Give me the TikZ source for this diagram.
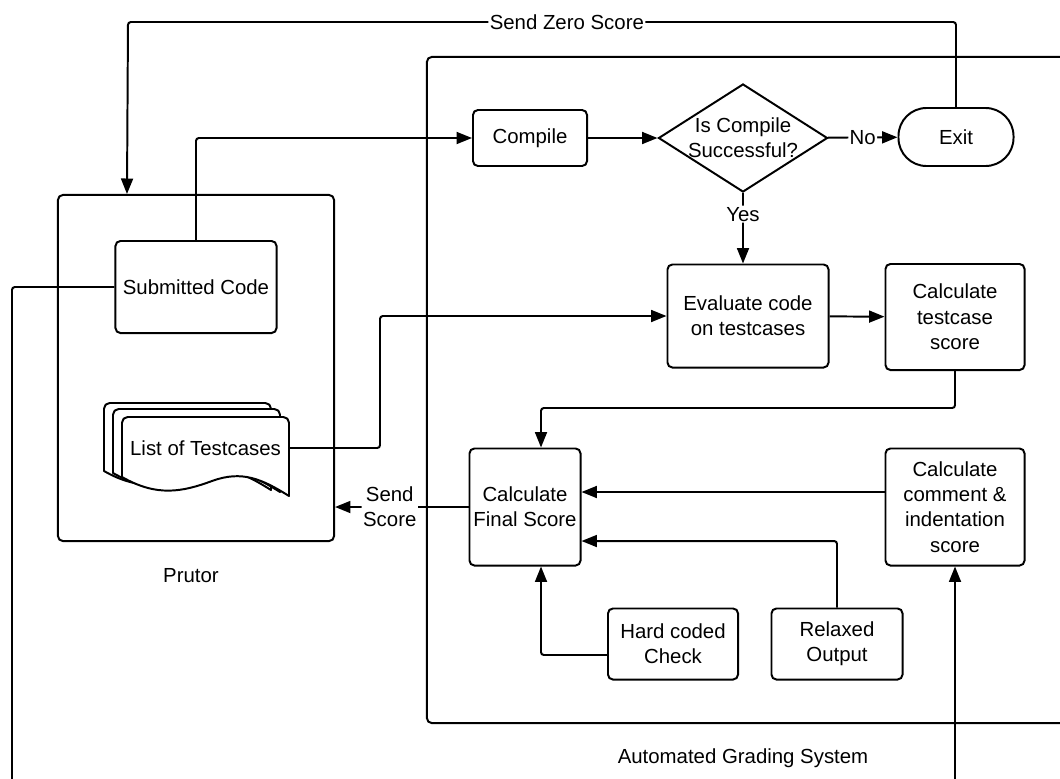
\documentclass[tikz,border=0pt]{standalone}
\usepackage{fontspec}
\setmainfont{Liberation Sans}
\usetikzlibrary{shapes.geometric, positioning, arrows.meta}

\begin{document}
\begin{tikzpicture}[
    x=0.025cm, y=-0.025cm,
    font=\fontsize{14.5}{18}\selectfont,
    line width=1.4pt,
    proc/.style={draw, rectangle, rounded corners=3.5pt, align=center, inner sep=2pt},
    decision/.style={draw, diamond, aspect=1.56, align=center, inner sep=-3pt, minimum width=4.225cm, minimum height=2.7cm},
    term/.style={draw, rectangle, rounded corners=0.7cm, minimum width=2.875cm, minimum height=1.45cm},
    group/.style={draw, rectangle, rounded corners=3.5pt},
    lbl/.style={fill=white, inner sep=1pt},
    arrow/.style={-{Triangle[length=11pt, width=8.5pt]}, rounded corners=2pt},
    doc/.style={draw, fill=white, line join=round}
]
    \useasboundingbox (0,0) rectangle (1060,778);
    \clip (0,0) rectangle (1060,778);

    % outer groups
    \node[group, minimum width=6.9cm, minimum height=8.65cm] (prutor) at (196,368) {};
    \node (prutorlbl) at (191,576) {Prutor};
    \node[group, minimum width=16.2cm, minimum height=16.65cm] (grading) at (751,390) {};
    \node (gradinglbl) at (743,758) {Automated Grading System};

    % Prutor side
    \node[proc, minimum width=4.025cm, minimum height=2.3cm] (code) at (196,287) {Submitted Code};
    \foreach \dx/\dy/\dh in {-18/-14/8,-9/-8/4,0/0/0}
        \draw[doc, shift={(122+\dx,417+\dy)}] (0,60+\dh) [rounded corners=4pt] -- (0,0) -- (167,0) [sharp corners] -- (167,79+\dh)
            .. controls (140,62+\dh) and (120,53+\dh) .. (90,64+\dh) .. controls (60,75+\dh) and (35,80+\dh) .. (0,60+\dh) -- cycle;
    \node[minimum width=4.175cm, minimum height=1.5cm, inner sep=0pt] (tests) at (205.5,448) {List of Testcases};

    % grading system
    \node[proc, minimum width=2.85cm, minimum height=1.4cm] (compile) at (530,138) {Compile};
    \node[decision] (check) at (743,138) {Is Compile\\Successful?};
    \node[term] (exit) at (956,137) {Exit};
    \node[proc, minimum width=4.025cm, minimum height=2.575cm] (eval) at (748,316) {Evaluate code\\on testcases};
    \node[proc, minimum width=3.475cm, minimum height=2.65cm] (tscore) at (955,317) {Calculate\\testcase\\score};
    \node[proc, minimum width=2.775cm, minimum height=2.925cm] (final) at (525,507) {Calculate\\Final Score};
    \node[proc, minimum width=3.475cm, minimum height=2.925cm] (comment) at (955,507) {Calculate\\comment \&\\indentation\\score};
    \node[proc, minimum width=3.25cm, minimum height=1.775cm] (hard) at (673,644) {Hard coded\\Check};
    \node[proc, minimum width=3.275cm, minimum height=1.775cm] (relaxed) at (837,644) {Relaxed\\Output};

    \coordinate (codeout) at (12,790);
    \coordinate (commentin) at (955,790);

    % connectors
    \draw[arrow] (code.north) |- (compile.west);
    \draw[arrow] (compile) -- (check);
    \draw[arrow] (check) -- node[lbl]{No} (exit);
    \draw[arrow] (check.south) -- node[lbl, pos=0.3]{Yes} (check.south |- eval.north);
    \draw[arrow] (eval) -- (tscore);
    \draw[arrow] (tests.east) -- ++(90,0) |- (eval.west);
    \draw[arrow] (tscore.south) -- ++(0,37) -| ([xshift=0.4cm]final.north);
    \draw[arrow] ([yshift=0.375cm]comment.west) -- ([yshift=0.375cm]final.east);
    \draw[arrow] (relaxed.north) |- ([yshift=-0.85cm]final.east);
    \draw[arrow] ([yshift=-0.275cm]hard.west) -| ([xshift=0.4cm]final.south);
    \draw[arrow] (final.west) -- node[lbl, pos=0.59, align=center]{Send\\Score} (final.west -| prutor.east);
    \draw[arrow] (exit.north) -- ++(0,-85) -- node[lbl, pos=0.47]{Send Zero Score} ++(-828,0) -- ([xshift=-1.725cm]prutor.north);
    \draw[rounded corners=2pt] (code.west) -| (codeout);
    \draw[arrow] (commentin) -- (comment.south);
\end{tikzpicture}
\end{document}
